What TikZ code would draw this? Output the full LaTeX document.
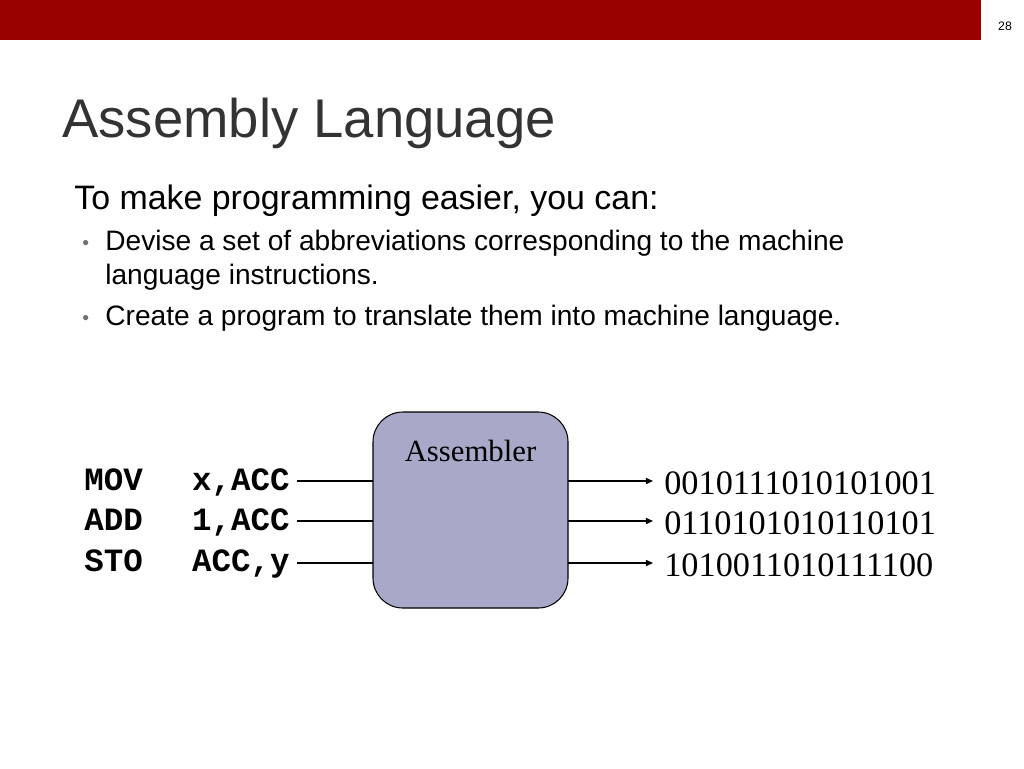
\documentclass[tikz,border=0pt]{standalone}
\usepackage{fontspec}
\setmainfont{Liberation Sans}
\newfontfamily\timesfont{Liberation Serif}
\newfontfamily\courfont{Liberation Mono}
\usetikzlibrary{arrows.meta,positioning}
\definecolor{barred}{HTML}{990000}
\definecolor{textdark}{HTML}{333333}
\definecolor{asmfill}{HTML}{A8A8C8}

\begin{document}
\begin{tikzpicture}[x=0.02cm, y=-0.02cm,
  title/.style={anchor=base west, inner sep=0pt, font=\fontsize{31}{36}\selectfont, text=textdark},
  lead/.style={anchor=base west, inner sep=0pt, font=\fontsize{19.3}{22}\selectfont},
  item/.style={anchor=base west, inner sep=0pt, font=\fontsize{16}{19}\selectfont},
  dot/.style={anchor=base west, inner sep=0pt, font=\fontsize{11}{13}\selectfont, text=textdark!70},
  asm/.style={anchor=base west, inner sep=0pt, font=\courfont\bfseries\fontsize{18.5}{20}\selectfont},
  bits/.style={anchor=base west, inner sep=0pt, font=\timesfont\fontsize{19.5}{22}\selectfont},
  box/.style={draw=black, fill=asmfill, rounded corners=17pt, line width=0.6pt},
  link/.style={line width=0.6pt},
  arrow/.style={-{Triangle[length=4pt,width=3.5pt]}, line width=0.6pt},
]
\useasboundingbox (0,0) rectangle (1024,768);

% Header bar and page number
\fill[barred] (0,0) rectangle (981,40);
\node[inner sep=0pt, font=\fontsize{7}{8}\selectfont] (page) at (1005,26) {28};

% Title and bullets
\node[title] (ttl) at (62,137) {Assembly Language};
\node[lead] (intro) at (74,209) {To make programming easier, you can:};
\node[dot] (d1) at (82,249) {•};
\node[item] (b1) at (105,250) {Devise a set of abbreviations corresponding to the machine};
\node[item] (b1b) at (105,284) {language instructions.};
\node[dot] (d2) at (82,324) {•};
\node[item] (b2) at (105,325) {Create a program to translate them into machine language.};

% Assembler box
\draw[box] (373,412) rectangle (568,608);
\node[inner sep=0pt, font=\timesfont\fontsize{17.5}{20}\selectfont] (asmlabel) at (470.5,451) {Assembler};

% Input lines
\node[asm] (op1) at (84,490) {MOV};
\node[asm] (op2) at (84,530) {ADD};
\node[asm] (op3) at (84,571) {STO};
\node[asm, anchor=base east] (arg1) at (290,490) {x,ACC};
\node[asm, anchor=base east] (arg2) at (290,530) {1,ACC};
\node[asm, anchor=base east] (arg3) at (290,571) {ACC,y};
\coordinate (in1) at (373,481);
\coordinate (in2) at (373,521);
\coordinate (in3) at (373,563);
\draw[link] (297,481) -- (in1);
\draw[link] (297,521) -- (in2);
\draw[link] (297,563) -- (in3);

% Output lines
\coordinate (from1) at (568,481);
\coordinate (from2) at (568,521);
\coordinate (from3) at (568,563);
\node[bits] (out1) at (664,494) {0010111010101001};
\node[bits] (out2) at (664,534) {0110101010110101};
\node[bits] (out3) at (664,576) {1010011010111100};
\draw[arrow] (from1) -- (653,481);
\draw[arrow] (from2) -- (653,521);
\draw[arrow] (from3) -- (653,563);

\end{tikzpicture}
\end{document}
